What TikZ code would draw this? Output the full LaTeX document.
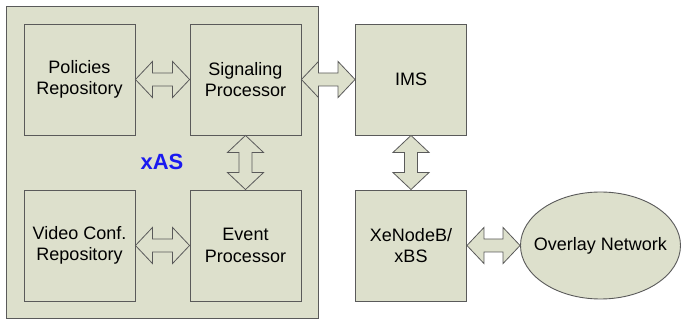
\documentclass[tikz,border=0pt]{standalone}
\usepackage{fontspec}
\setmainfont{Liberation Sans}
\usetikzlibrary{calc,shapes.geometric}
\definecolor{boxfill}{HTML}{DDE0CC}
\definecolor{boxline}{HTML}{5A5A5A}
\definecolor{xasblue}{HTML}{1A1AF0}
\tikzset{
  blk/.style={draw=boxline,fill=boxfill,line width=0.9pt,minimum width=111pt,minimum height=111pt,inner sep=0pt,align=center,font=\fontsize{18}{21.5}\selectfont},
  outer/.style={draw=boxline,fill=boxfill,line width=0.9pt,minimum width=312pt,minimum height=312pt,inner sep=0pt},
  dblarr/.style={draw=boxline,fill=boxfill,line width=0.8pt,line join=miter},
  oval/.style={ellipse,draw=boxline,fill=boxfill,line width=0.9pt,minimum width=160pt,minimum height=107pt,inner xsep=-12pt,inner ysep=0pt,font=\fontsize{18}{21.5}\selectfont}
}
\newcommand\harr[2]{\draw[dblarr] (#1.east) -- ++(17,-18) -- ++(0,11.5) -- ($(#2.west)+(-17,-6.5)$) -- ++(0,-11.5) -- (#2.west) -- ++(-17,18) -- ++(0,-11.5) -- ($(#1.east)+(17,6.5)$) -- ++(0,11.5) -- cycle;}
\newcommand\varr[2]{\draw[dblarr] (#1.south) -- ++(18,17) -- ++(-11.5,0) -- ($(#2.north)+(6.5,-17)$) -- ++(11.5,0) -- (#2.north) -- ++(-18,-17) -- ++(11.5,0) -- ($(#1.south)+(-6.5,17)$) -- ++(-11.5,0) -- cycle;}
\begin{document}
\begin{tikzpicture}[x=1pt,y=-1pt]
\useasboundingbox (0,0) rectangle (681,320);
\node[outer] (xas) at (162,162) {};
\node[blk] (pol) at (79.5,79.5) {Policies\\Repository};
\node[blk] (sig) at (245.5,79.5) {Signaling\\Processor};
\node[blk] (vid) at (79.5,245.5) {Video Conf.\\Repository};
\node[blk] (evt) at (245.5,245.5) {Event\\Processor};
\node[blk] (ims) at (411,79.5) {IMS};
\node[blk] (xbs) at (411,245.5) {XeNodeB/\\xBS};
\node[oval] (ovl) at (600.5,245.5) {Overlay Network};
\node[text=xasblue,font=\fontsize{22}{26}\selectfont\bfseries] (lbl) at (162,162) {xAS};
\harr{pol}{sig}
\harr{vid}{evt}
\harr{sig}{ims}
\harr{xbs}{ovl}
\varr{sig}{evt}
\varr{ims}{xbs}
\end{tikzpicture}
\end{document}
